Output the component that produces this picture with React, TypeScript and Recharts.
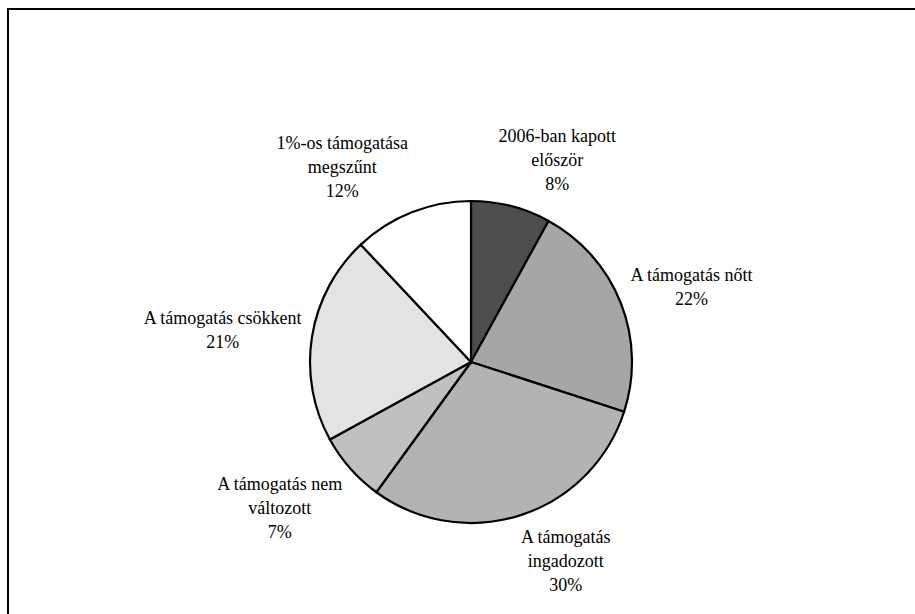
import React from "react";
import { PieChart, Pie, Cell } from "recharts";

const categoryLines: string[][] = [
  ["2006-ban kapott", "először"],
  ["A támogatás nőtt"],
  ["A támogatás", "ingadozott"],
  ["A támogatás nem", "változott"],
  ["A támogatás csökkent"],
  ["1%-os támogatása", "megszűnt"],
];
const values: number[] = [8, 22, 30, 7, 21, 12];
const sliceColors: string[] = ["#4d4d4d", "#a6a6a6", "#b3b3b3", "#c0c0c0", "#e3e3e3", "#ffffff"];

const data = values.map((v, i) => ({
  name: categoryLines[i].join(" "),
  value: v,
}));

const FONT = '"Liberation Serif", "Times New Roman", Times, serif';
const FONT_SIZE = 18;
const LINE_H = 24;

let ctx: CanvasRenderingContext2D | null = null;
function textWidth(s: string): number {
  try {
    if (!ctx) {
      const c = document.createElement("canvas");
      ctx = c.getContext("2d");
    }
    if (ctx) {
      ctx.font = `${FONT_SIZE}px "Liberation Serif", serif`;
      return ctx.measureText(s).width;
    }
  } catch (e) {
    /* ignore */
  }
  return s.length * FONT_SIZE * 0.45;
}

const RADIAN = Math.PI / 180;
const clamp1 = (v: number) => Math.max(-1, Math.min(1, v));

function renderLabel(props: any) {
  const { cx, cy, midAngle, outerRadius, index, value } = props;
  const lines: string[] = [...categoryLines[index], `${value}%`];
  const w = Math.max(...lines.map(textWidth));
  const h = lines.length * LINE_H;
  const sinT = Math.cos(midAngle * RADIAN);
  const cosT = Math.sin(midAngle * RADIAN);
  const r = outerRadius + 10;
  const ax = cx + r * sinT;
  const ay = cy - r * cosT;
  const a = clamp1(3 * sinT);
  const b = clamp1(1.4 * cosT);
  const bx = ax + (a * w) / 2;
  const by = ay - (b * h) / 2;
  const top = by - h / 2;
  return (
    <text
      key={`lbl-${index}`}
      x={bx}
      y={top}
      textAnchor="middle"
      style={{ fontFamily: FONT, fontSize: FONT_SIZE }}
      fill="#000"
      stroke="none"
    >
      {lines.map((ln, i) => (
        <tspan key={i} x={bx} y={top + LINE_H * i + LINE_H / 2 + 6}>
          {ln}
        </tspan>
      ))}
    </text>
  );
}

export default function App() {
  return (
    <div
      style={{
        position: "fixed",
        left: 0,
        top: 0,
        width: 915,
        height: 614,
        overflow: "hidden",
        background: "#fff",
      }}
    >
      <div
        style={{
          position: "absolute",
          left: 7,
          top: 8,
          width: 2000,
          height: 2000,
          borderTop: "2px solid #000",
          borderLeft: "2px solid #000",
          boxSizing: "border-box",
        }}
      />
      <div style={{ position: "absolute", left: 8, top: 8 }}>
        <PieChart width={907} height={606} margin={{ top: 0, right: 0, bottom: 0, left: 0 }}>
          <Pie
            data={data}
            dataKey="value"
            nameKey="name"
            cx={463}
            cy={354}
            outerRadius={161}
            startAngle={90}
            endAngle={-270}
            stroke="#000"
            strokeWidth={2.2}
            label={renderLabel}
            labelLine={false}
            isAnimationActive={false}
          >
            {data.map((d, i) => (
              <Cell key={d.name} fill={sliceColors[i]} stroke="#000" strokeWidth={2.2} />
            ))}
          </Pie>
        </PieChart>
      </div>
    </div>
  );
}
